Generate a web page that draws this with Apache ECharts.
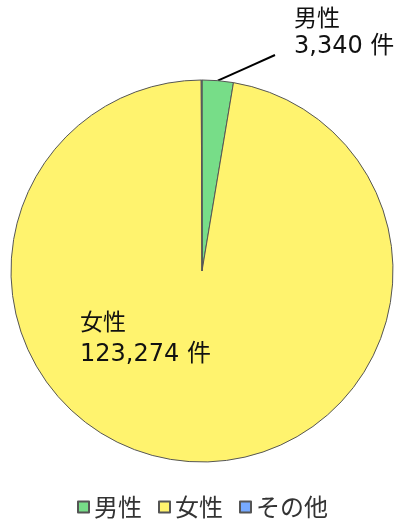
<!DOCTYPE html>
<html><head><meta charset="utf-8">
<script src="https://cdn.jsdelivr.net/npm/echarts@6/dist/echarts.min.js"></script>
<style>html,body{margin:0;padding:0;background:#fff}#c{width:405px;height:524px}</style>
</head><body><div id="c"></div>
<script>
const categories = ['男性', '女性', 'その他'];
const values = [3340, 123274, 80];
const unit = '件';
const colors = ['#77DD88', '#FFF36E', '#77AAFF'];

const chart = echarts.init(document.getElementById('c'));
const font = '"DejaVu Sans", "Noto Sans CJK JP", sans-serif';
const cjk = '"Noto Sans CJK JP", sans-serif';
chart.setOption({
  animation: false,
  textStyle: { fontFamily: font },
  legend: {
    top: 490, left: 'center',
    icon: 'rect', itemWidth: 11, itemHeight: 11, itemGap: 16,
    textStyle: { fontSize: 24, color: '#333', fontFamily: cjk },
    data: categories
  },
  series: [{
    type: 'pie',
    center: [202, 271],
    radius: 191,
    startAngle: 90,
    clockwise: true,
    minAngle: 0,
    avoidLabelOverlap: false,
    itemStyle: { borderColor: '#555', borderWidth: 1 },
    label: {
      show: true,
      color: '#111', fontFamily: font,
      align: 'left',
      formatter: p => '{n|' + p.name + '}\n{v|' + p.value.toLocaleString('en-US') + ' ' + unit + '}',
      rich: {
        n: { fontSize: 23, fontFamily: cjk, color: '#111', lineHeight: 33 },
        v: { fontSize: 24, fontFamily: font, color: '#111', lineHeight: 33 }
      }
    },
    labelLine: { show: true, lineStyle: { color: '#000', width: 2 }, length: 20, length2: 0 },
    labelLayout: function (p) {
      if (p.dataIndex === 0) {
        const start = p.labelLinePoints ? p.labelLinePoints[0] : [218, 81];
        return { x: 294, y: 32, align: 'left', verticalAlign: 'middle',
                 labelLinePoints: [start, [(start[0] + 275) / 2, (start[1] + 55) / 2], [275, 55]] };
      }
      if (p.dataIndex === 1) return { x: 80, y: 338, align: 'left', verticalAlign: 'middle' };
      return { x: -500, y: -500 };
    },
    data: categories.map((n, i) => ({
      name: n, value: values[i], itemStyle: { color: colors[i] },
      labelLine: { show: i === 0 },
      label: i === 0 ? {
        rich: {
          n: { fontSize: 23, fontFamily: cjk, color: '#111', lineHeight: 30 },
          v: { fontSize: 24, fontFamily: font, color: '#111', lineHeight: 30 }
        }
      } : (i === 2 ? { show: false } : {})
    }))
  }]
});
</script></body></html>
